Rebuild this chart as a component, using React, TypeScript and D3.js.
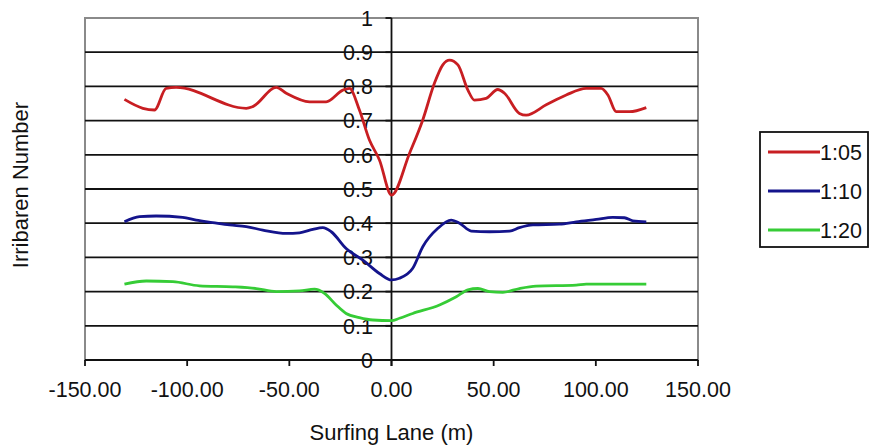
import React from "react";
import * as d3 from "d3";

const W = 874;
const H = 448;

const xTicks = [-150, -100, -50, 0, 50, 100, 150];
const yTicks = [0, 0.1, 0.2, 0.3, 0.4, 0.5, 0.6, 0.7, 0.8, 0.9, 1];

const seriesNames = ["1:05", "1:10", "1:20"];
const seriesColors = ["#c81e22", "#14148c", "#36cc36"];

const xRed = [-130.7, -121.7, -116, -110.3, -105.4, -71.1, -67.9, -56.4, -51.5, -40.1, -32, -23.8, -20.6, -15.7, -10.8, -5.9, 0, 8.8, 15.3, 21, 25.1, 28.4, 32.5, 37.4, 40.6, 46.3, 52, 55.3, 62.6, 65.9, 75.7, 85.5, 95.3, 102.6, 105.9, 110, 116.5, 124.7];
const yRed = [0.762, 0.736, 0.731, 0.794, 0.797, 0.736, 0.741, 0.797, 0.78, 0.755, 0.755, 0.789, 0.794, 0.731, 0.643, 0.585, 0.482, 0.604, 0.702, 0.809, 0.863, 0.877, 0.863, 0.789, 0.76, 0.765, 0.791, 0.78, 0.721, 0.716, 0.746, 0.775, 0.794, 0.794, 0.775, 0.726, 0.726, 0.738];

const xBlue = [-130.7, -123.3, -115.2, -102.2, -95.6, -87.5, -79.3, -71.1, -63, -51.5, -45, -38.5, -33.6, -29.5, -22.2, -14, -5.9, 0, 3.9, 10.4, 15.3, 22.7, 29.2, 33.3, 39, 48, 57.8, 62.6, 69.2, 82.2, 90.4, 100.2, 108.3, 114, 118.1, 124.7];
const yBlue = [0.404, 0.419, 0.421, 0.417, 0.409, 0.402, 0.395, 0.39, 0.38, 0.37, 0.372, 0.382, 0.387, 0.375, 0.326, 0.292, 0.253, 0.234, 0.239, 0.268, 0.331, 0.385, 0.409, 0.4, 0.377, 0.375, 0.377, 0.387, 0.395, 0.397, 0.404, 0.411, 0.417, 0.416, 0.407, 0.404];

const xGreen = [-130.7, -120, -107, -94, -77.7, -66.2, -56.4, -45, -37.7, -32.8, -27.1, -22.2, -15.7, -9.1, 0, 3.9, 10.4, 23.5, 31.7, 37.4, 42.3, 48, 54.5, 62.6, 70.8, 90.4, 95.3, 124.7];
const yGreen = [0.222, 0.231, 0.229, 0.217, 0.214, 0.209, 0.2, 0.202, 0.207, 0.195, 0.161, 0.136, 0.124, 0.117, 0.115, 0.122, 0.136, 0.161, 0.185, 0.205, 0.209, 0.2, 0.198, 0.209, 0.216, 0.219, 0.222, 0.222];

const seriesX = [xRed, xBlue, xGreen];
const seriesY = [yRed, yBlue, yGreen];

const FONT = "'Liberation Sans', Arial, sans-serif";

export default function App() {
  const x = d3.scaleLinear().domain([-150, 150]).range([85, 698]);
  const y = d3.scaleLinear().domain([0, 1]).range([360, 18]);
  const line = d3
    .line<[number, number]>()
    .x((d) => x(d[0]))
    .y((d) => y(d[1]))
    .curve(d3.curveMonotoneX);

  const x0 = x(0);

  return (
    <svg
      width={W}
      height={H}
      style={{ position: "absolute", left: 0, top: 0, background: "#fff" }}
      fontFamily={FONT}
    >
      <rect x={0} y={0} width={W} height={H} fill="#fff" />
      {/* plot border */}
      <rect x={x(-150)} y={y(1)} width={x(150) - x(-150)} height={y(0) - y(1)} fill="none" stroke="#8a8a8a" strokeWidth={2} />
      {/* gridlines */}
      {yTicks.filter((t) => t > 0 && t < 1).map((t) => (
        <line key={t} x1={x(-150)} x2={x(150)} y1={y(t)} y2={y(t)} stroke="#111" strokeWidth={1.8} />
      ))}
      {/* x axis */}
      <line x1={x(-150)} x2={x(150)} y1={y(0)} y2={y(0)} stroke="#111" strokeWidth={1.8} />
      {xTicks.map((t) => (
        <g key={t}>
          <line x1={x(t)} x2={x(t)} y1={y(0)} y2={y(0) + 6} stroke="#111" strokeWidth={1.8} />
          <text x={x(t)} y={y(0) + 37} textAnchor="middle" fontSize={21.5} fill="#111">
            {t.toFixed(2)}
          </text>
        </g>
      ))}
      {/* y axis at x = 0 */}
      <line x1={x0} x2={x0} y1={y(1)} y2={y(0) + 6} stroke="#111" strokeWidth={1.8} />
      {yTicks.map((t) => (
        <g key={t}>
          <line x1={x0 - 6} x2={x0} y1={y(t)} y2={y(t)} stroke="#111" strokeWidth={1.8} />
          <text x={373} y={y(t)} dy="0.36em" textAnchor="end" fontSize={21.5} fill="#111">
            {t === 0 || t === 1 ? String(t) : t.toFixed(1)}
          </text>
        </g>
      ))}
      {/* series */}
      {seriesNames.map((name, i) => {
        const pts = seriesX[i].map((v, j) => [v, seriesY[i][j]] as [number, number]);
        return (
          <path key={name} d={line(pts) || ""} fill="none" stroke={seriesColors[i]} strokeWidth={2.8} strokeLinejoin="round" />
        );
      })}
      {/* axis titles */}
      <text x={(x(-150) + x(150)) / 2} y={440} textAnchor="middle" fontSize={22} fill="#111">
        Surfing Lane (m)
      </text>
      <text transform={`translate(28,${185}) rotate(-90)`} textAnchor="middle" fontSize={22} fill="#111">
        Irribaren Number
      </text>
      {/* legend */}
      <rect x={760} y={132} width={108} height={115} fill="#fff" stroke="#111" strokeWidth={1.8} />
      {seriesNames.map((name, i) => {
        const ly = 152 + i * 39;
        return (
          <g key={name}>
            <line x1={768} x2={820} y1={ly} y2={ly} stroke={seriesColors[i]} strokeWidth={2.8} />
            <text x={820} y={ly} dy="0.36em" fontSize={21.5} fill="#111">
              {name}
            </text>
          </g>
        );
      })}
    </svg>
  );
}
